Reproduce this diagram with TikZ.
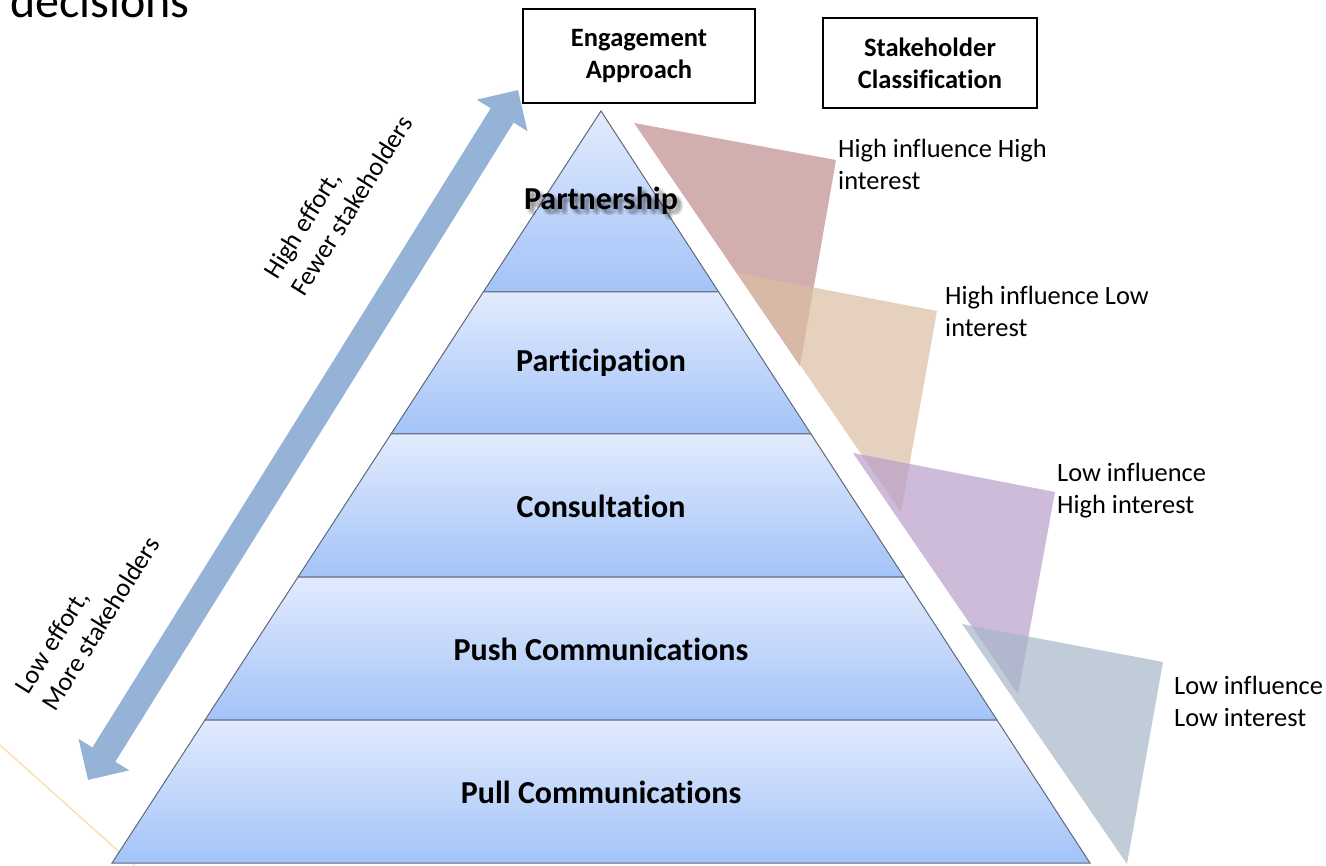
\documentclass[tikz,border=0pt]{standalone}
\usepackage{fontspec}
\setmainfont{Carlito}[Ligatures=NoCommon]
\usetikzlibrary{arrows.meta}
\definecolor{layertop}{RGB}{226,235,253}
\definecolor{layerbot}{RGB}{163,195,248}
\definecolor{layeredge}{RGB}{95,105,125}
\definecolor{arrowblue}{RGB}{149,179,215}
\definecolor{redshape}{RGB}{192,139,139}
\definecolor{peachshape}{RGB}{219,190,162}
\definecolor{purpleshape}{RGB}{184,158,201}
\definecolor{grayshape}{RGB}{165,182,199}
\definecolor{faintline}{RGB}{252,222,182}
\tikzset{
  layer/.style={draw=layeredge, line width=1pt, top color=layertop, bottom color=layerbot},
  lvltext/.style={font=\fontsize{32}{36}\selectfont\bfseries, inner sep=0pt},
  glow/.style={lvltext, text=black, opacity=0.07},
  headbox/.style={draw=black, line width=1.3pt, inner sep=0pt, align=center,
                  font=\fontsize{26.5}{32}\selectfont\bfseries},
  classtext/.style={anchor=west, align=left, inner sep=0pt, font=\fontsize{26.4}{32}\selectfont},
  effort/.style={align=left, inner sep=0pt, rotate=58, font=\fontsize{26.2}{32}\selectfont},
  bigarrow/.style={draw=arrowblue, line width=27pt,
     {Triangle[width=58pt,length=30pt]}-{Triangle[width=58pt,length=30pt]}},
  classshape/.style={fill opacity=0.7, draw=none}
}
\begin{document}
\begin{tikzpicture}[x=1pt,y=-1pt]
\useasboundingbox (0,0) rectangle (1326,866);

% faint line
\coordinate (fl1) at (0,745);
\coordinate (fl2) at (135,866);
\draw[faintline, line width=1.5pt] (fl1) -- (fl2);

% pyramid layers
\path[layer] (601,111) -- (718.7,292) -- (483.3,292) -- cycle;
\path[layer] (483.3,292) -- (718.7,292) -- (811,434) -- (391,434) -- cycle;
\path[layer] (391,434) -- (811,434) -- (904,577) -- (298,577) -- cycle;
\path[layer] (298,577) -- (904,577) -- (997,720) -- (205,720) -- cycle;
\path[layer] (205,720) -- (997,720) -- (1090,863) -- (112,863) -- cycle;

% soft shadow of the top label
\foreach \dx/\dy [count=\k] in {4/4, 1/4, 4/1, 6/3, 3/6, 6/6, 2/2, 5/5} {
  \node[glow] (pglow\k) at (601+\dx,201+\dy) {Partnership};
}
\node[lvltext] (partnership) at (601,201) {Partnership};
\node[lvltext] (participation) at (601,363) {Participation};
\node[lvltext] (consultation) at (601,506) {Consultation};
\node[lvltext] (push) at (601,649) {Push Communications};
\node[lvltext] (pull) at (601,792) {Pull Communications};

% classification shapes
\fill[classshape, redshape] (634,123) -- (836,160) -- (800,366) -- cycle;
\fill[classshape, peachshape] (737,273) -- (937,311) -- (901,512) -- cycle;
\fill[classshape, purpleshape] (853,453) -- (1055,492) -- (1018,694) -- cycle;
\fill[classshape, grayshape] (962,624) -- (1163,662) -- (1127,864) -- cycle;

% header boxes
\node[headbox, minimum width=232pt, minimum height=94pt] (engage) at (639,56) {Engagement\\Approach};
\node[headbox, minimum width=214pt, minimum height=90pt] (stake) at (930,63) {Stakeholder\\Classification};

% classification labels
\node[classtext] (hh) at (838,164.5) {High influence High\\interest};
\node[classtext] (hl) at (945,311) {High influence Low\\interest};
\node[classtext] (lh) at (1057,491) {Low influence\\High interest};
\node[classtext] (ll) at (1174,701) {Low influence\\Low interest};

% effort arrow
\coordinate (lo) at (88,780);
\coordinate (hi) at (518,90);
\draw[bigarrow] (lo) -- (hi);
\node[effort] (higheff) at (338,197) {High effort,\\Fewer stakeholders};
\node[effort] (loweff) at (87,615) {Low effort,\\More stakeholders};

% title fragment
\node[anchor=base west, inner sep=0pt, font=\fontsize{48}{54}\selectfont] (dec) at (10,18) {decisions};
\end{tikzpicture}
\end{document}
